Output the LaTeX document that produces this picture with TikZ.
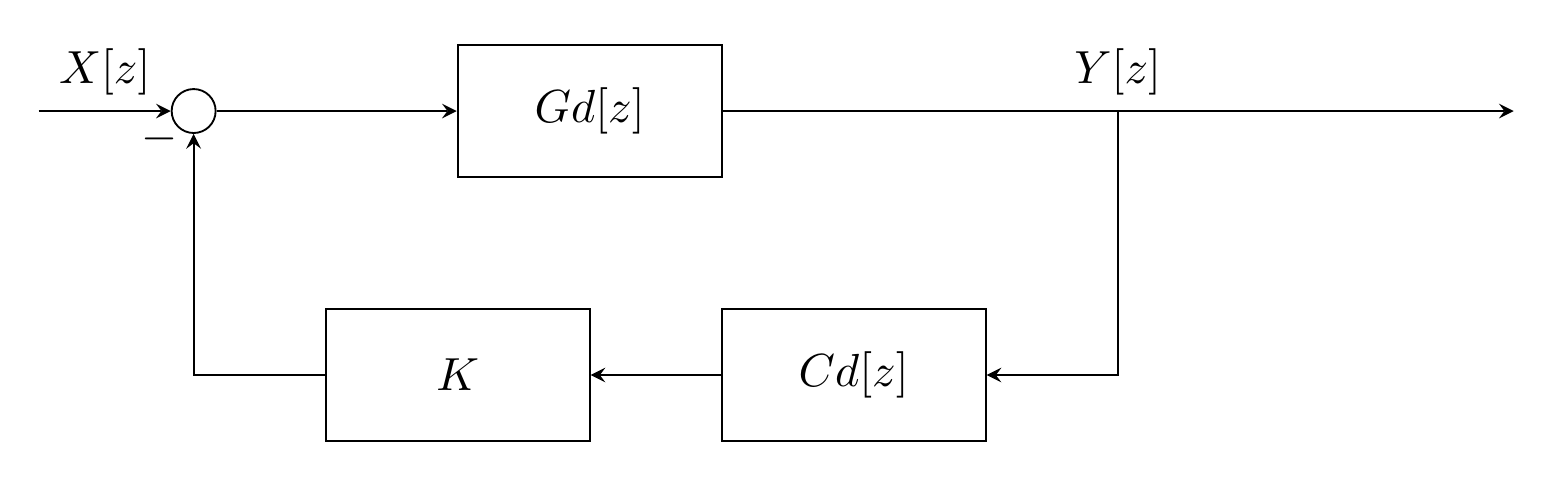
\documentclass[tikz,border=0pt]{standalone}
\usepackage{tikz}
\usetikzlibrary{positioning}
\usetikzlibrary{arrows}

\begin{document}
\begin{tikzpicture}[>=stealth,
    block/.style={draw, minimum width=2cm, minimum height=1cm},
    sum/.style={draw, circle, minimum size=0.333cm, inner sep=0pt}]
    \useasboundingbox (-1.467,-2.856) rectangle (10.29,0.841);
    \node[sum] (sum) at (0,0) {};
    \coordinate[left=1cm of sum] (in);
    \node[block] (gd) at (3,0) {$Gd[z]$};
    \coordinate (branch) at (7,0);
    \coordinate (out) at (10,0);
    \node[block] (cd) at (5,-2) {$Cd[z]$};
    \node[block] (k) at (2,-2) {$K$};
    \draw[->] (in) -- node[above] (xlabel) {$X[z]$} (sum);
    \draw[->] (sum) -- (gd);
    \draw[->] (gd) -- (out);
    \node[above] (ylabel) at (branch) {$Y[z]$};
    \draw[->] (branch) |- (cd);
    \draw[->] (cd) -- (k);
    \draw[->] (k) -| (sum);
    \node (minus) at (-0.26,-0.21) {$-$};
\end{tikzpicture}
\end{document}
